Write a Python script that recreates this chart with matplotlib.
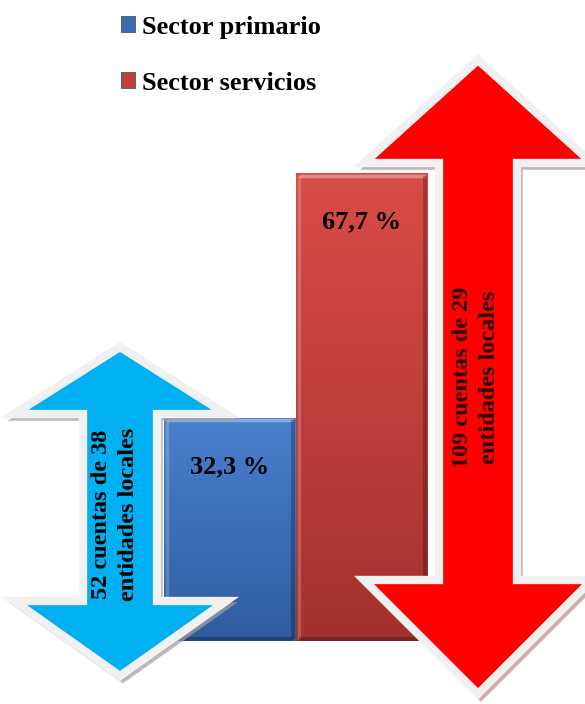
import numpy as np
import matplotlib.pyplot as plt
from matplotlib.patches import Polygon, Patch
from matplotlib.colors import LinearSegmentedColormap

plt.rcParams['font.family'] = ['Liberation Serif', 'DejaVu Serif']
plt.rcParams['font.weight'] = 'bold'

sectors = ['Sector primario', 'Sector servicios']
shares = [32.3, 67.7]
share_labels = ['32,3 %', '67,7 %']
arrow_notes = ['52 cuentas de 38\nentidades locales',
               '109 cuentas de 29\nentidades locales']

bar_top = ['#4A80CE', '#D94C48']
bar_bottom = ['#2F5C9F', '#A3302E']
legend_colors = ['#3B6DB5', '#C03E3B']

W, H = 585, 704
fig = plt.figure(figsize=(W / 100, H / 100), dpi=100)

# bar axes: baseline at y=641px, 6.91 px per percentage point
base_px = 641
ax = fig.add_axes([0, (H - base_px) / H, 1, base_px / H])
ax.axis('off')

x = np.arange(len(shares))
bars = ax.bar(x, shares, width=1.0, color=legend_colors, linewidth=0, zorder=1)

grad = np.linspace(1, 0, 256).reshape(-1, 1)
for b, c0, c1 in zip(bars, bar_top, bar_bottom):
    cmap = LinearSegmentedColormap.from_list('g', [c1, c0])
    x0, w, h = b.get_x(), b.get_width(), b.get_height()
    im = ax.imshow(grad, extent=[x0, x0 + w, 0, h], aspect='auto', cmap=cmap,
                   vmin=0, vmax=1, zorder=2)
    im.set_clip_path(b)
    # bevel: highlight on top/left, shade on right/bottom
    ax.plot([x0 + 0.02, x0 + w - 0.02], [h - 0.35, h - 0.35], color='white',
            alpha=0.35, lw=2.5, zorder=3, solid_capstyle='butt')
    ax.plot([x0 + 0.02, x0 + 0.02], [0.3, h - 0.35], color='white',
            alpha=0.2, lw=2.5, zorder=3, solid_capstyle='butt')
    ax.plot([x0 + w - 0.02, x0 + w - 0.02], [0.3, h - 0.35], color='black',
            alpha=0.25, lw=3, zorder=3, solid_capstyle='butt')
    ax.plot([x0 + 0.02, x0 + w - 0.02], [0.3, 0.3], color='black',
            alpha=0.25, lw=3, zorder=3, solid_capstyle='butt')
ax.set_xlim(-230 / 132, (W - 230) / 132)
ax.set_ylim(0, base_px / 6.91)

for xi, v, lab in zip(x, shares, share_labels):
    ax.annotate(lab, (xi, v), xytext=(0, -35), textcoords='offset points',
                ha='center', va='center', fontsize=19, fontweight='bold',
                color='black', zorder=10)

handles = [Patch(facecolor=c, edgecolor='#555555', linewidth=0.6) for c in legend_colors]
ax.legend(handles, sectors, loc='upper left', bbox_to_anchor=(97 / W, 1 + 8 / H),
          bbox_transform=fig.transFigure, frameon=False, handlelength=0.55,
          handleheight=0.55, handletextpad=0.25, labelspacing=1.25,
          prop={'family': 'Liberation Serif', 'weight': 'bold', 'size': 19})

# overlay in pixel coordinates for the double arrows
ov = fig.add_axes([0, 0, 1, 1], zorder=5)
ov.set_xlim(0, W)
ov.set_ylim(H, 0)
ov.axis('off')
ov.patch.set_alpha(0)


def double_arrow(cx, top, head_base, tail_base, bottom, half_head, half_shaft):
    return [(cx, top), (cx + half_head, head_base), (cx + half_shaft, head_base),
            (cx + half_shaft, tail_base), (cx + half_head, tail_base), (cx, bottom),
            (cx - half_head, tail_base), (cx - half_shaft, tail_base),
            (cx - half_shaft, head_base), (cx - half_head, head_base)]


arrows = [
    (double_arrow(120, 347, 414, 601, 676, 106, 37), '#00B0F0', '#A0A0A0'),
    (double_arrow(478, 60, 163, 580, 694, 114, 39), '#FF0000', '#B89090'),
]
for pts, fill, shadow in arrows:
    sh = [(px + 3, py + 4) for px, py in pts]
    ov.add_patch(Polygon(sh, closed=True, facecolor=shadow, edgecolor=shadow,
                         lw=4, joinstyle='miter', alpha=0.7))
    ov.add_patch(Polygon(pts, closed=True, facecolor=fill, edgecolor='#F0F0F0',
                         lw=6, joinstyle='miter'))

ov.text(115, 514, arrow_notes[0], rotation=90, ha='center', va='center',
        fontsize=17.5, fontweight='bold', linespacing=1.4, color='black')
ov.text(476, 377, arrow_notes[1], rotation=90, ha='center', va='center',
        fontsize=17.5, fontweight='bold', linespacing=1.4, color='#2B0000')

fig.savefig('out.png', dpi=100, facecolor='white')
